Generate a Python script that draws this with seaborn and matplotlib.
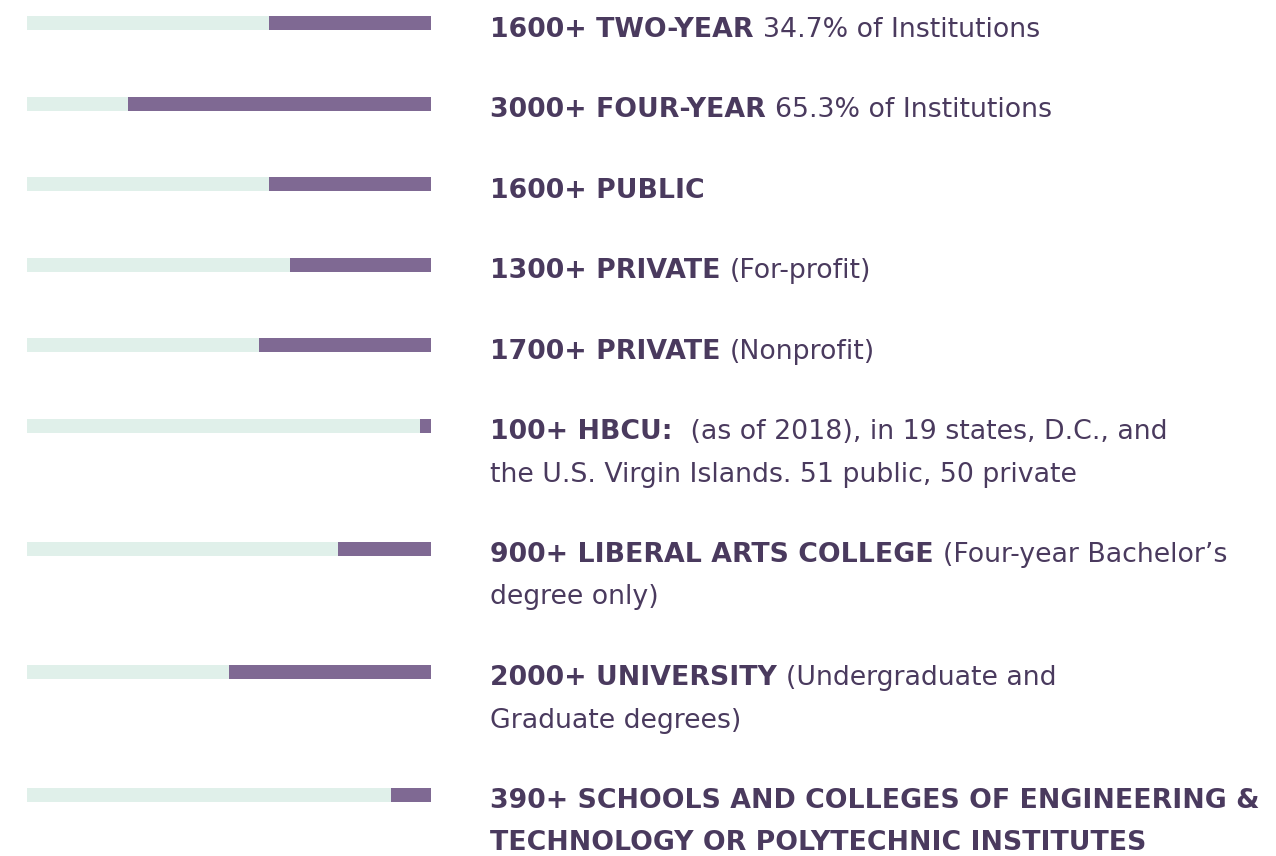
import numpy as np
import pandas as pd
import seaborn as sns
import matplotlib
matplotlib.use("Agg")
import matplotlib.pyplot as plt
from matplotlib.transforms import blended_transform_factory

# ---------------- data ----------------
headline = [
    "1600+ TWO-YEAR",
    "3000+ FOUR-YEAR",
    "1600+ PUBLIC",
    "1300+ PRIVATE",
    "1700+ PRIVATE",
    "100+ HBCU:",
    "900+ LIBERAL ARTS COLLEGE",
    "2000+ UNIVERSITY",
    "390+ SCHOOLS AND COLLEGES OF ENGINEERING &",
]
detail = [
    "34.7% of Institutions",
    "65.3% of Institutions",
    "",
    "(For-profit)",
    "(Nonprofit)",
    " (as of 2018), in 19 states, D.C., and",
    "(Four-year Bachelor\u2019s",
    "(Undergraduate and",
    "",
]
continuation = [
    "", "", "", "", "",
    "the U.S. Virgin Islands. 51 public, 50 private",
    "degree only)",
    "Graduate degrees)",
    "TECHNOLOGY OR POLYTECHNIC INSTITUTES",
]
continuation_bold = [False, False, False, False, False, False, False, False, True]
institutions = [1600, 3000, 1600, 1400, 1700, 105, 920, 2000, 395]
scale_max = 4000

# ---------------- style ----------------
TRACK = "#e0f0ea"
PURPLE = "#7f6993"
TEXT = "#4a3a5e"
FONT = ["DejaVu Sans"]
FS = 19.3

sns.set_theme(style="white")
plt.rcParams["font.family"] = FONT

W, H = 1276, 856
fig = plt.figure(figsize=(W / 100, H / 100), dpi=100)
fig.patch.set_facecolor("white")
ax = fig.add_axes([27 / W, 0, 404 / W, 1])

# vertical layout: rows spaced by number of text lines
base_gap, line_h = 80.5, 42.5
n_lines = [1 + (1 if c else 0) for c in continuation]
ypos = [23.0]
for k in range(1, len(headline)):
    ypos.append(ypos[-1] + base_gap + line_h * (n_lines[k - 1] - 1))

df = pd.DataFrame({"y": ypos, "value": institutions,
                   "track": [scale_max] * len(institutions)})

bar_w = 14 / base_gap
sns.barplot(data=df, x="track", y="y", orient="h", native_scale=True,
            color=TRACK, saturation=1, width=bar_w, errorbar=None,
            linewidth=0, ax=ax)
sns.barplot(data=df, x="value", y="y", orient="h", native_scale=True,
            color=PURPLE, saturation=1, width=bar_w, errorbar=None,
            linewidth=0, ax=ax)

ax.set_xlim(scale_max, 0)
ax.set_ylim(H, 0)
ax.axis("off")

# ---------------- text ----------------
trans = blended_transform_factory(fig.transFigure, ax.transData)
renderer = fig.canvas.get_renderer()
x0 = 490 / W
space_px = 9
for i in range(len(headline)):
    yb = ypos[i] + 13.5
    t = ax.text(x0, yb, headline[i], transform=trans, fontsize=FS,
                fontweight="bold", color=TEXT, va="baseline", ha="left",
                clip_on=False)
    if detail[i]:
        bb = t.get_window_extent(renderer)
        ax.text((bb.x1 + space_px) / W, yb, detail[i], transform=trans,
                fontsize=FS, color=TEXT, va="baseline", ha="left",
                clip_on=False)
    if continuation[i]:
        ax.text(x0, yb + line_h, continuation[i], transform=trans,
                fontsize=FS, fontweight="bold" if continuation_bold[i] else "normal",
                color=TEXT, va="baseline", ha="left", clip_on=False)

fig.savefig("out.png", dpi=100, facecolor="white")
